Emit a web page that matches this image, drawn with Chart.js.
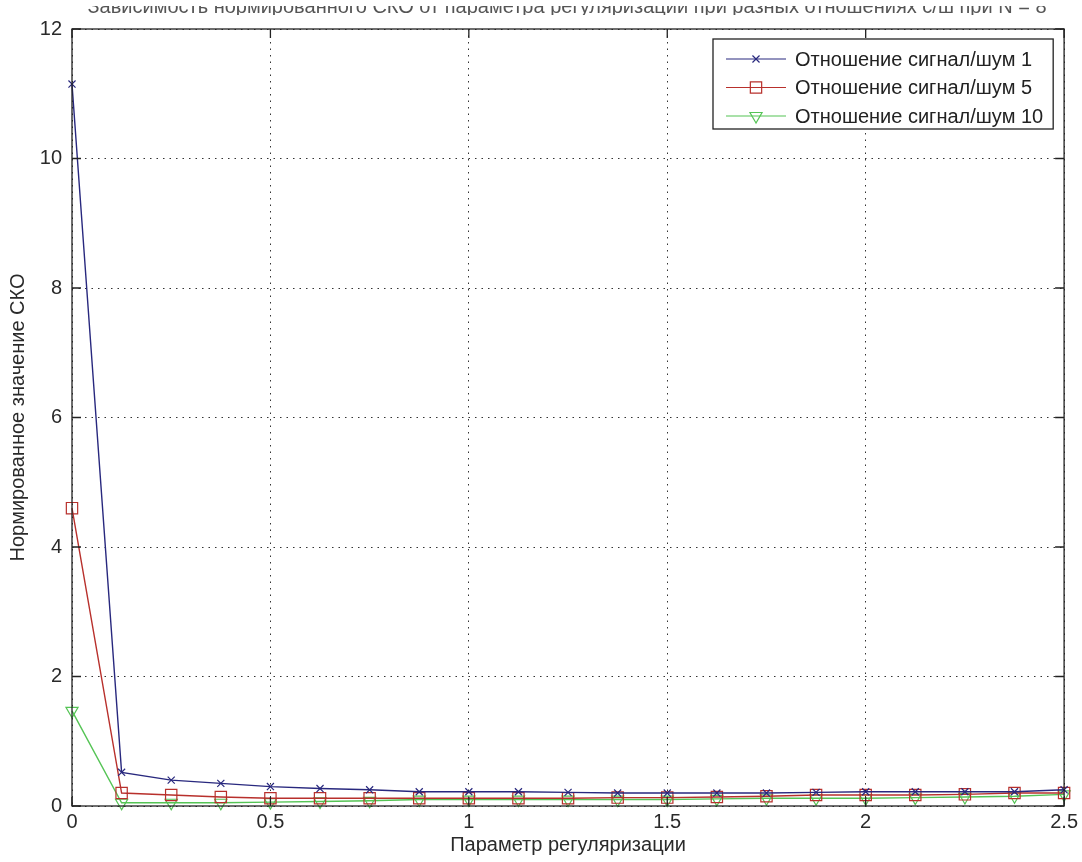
<!DOCTYPE html>
<html>
<head>
<meta charset="utf-8">
<script src="https://cdn.jsdelivr.net/npm/chart.js@4.4.1/dist/chart.umd.min.js"></script>
<style>
  body { margin: 0; background: #fff; }
  #wrap { width: 1082px; height: 862px; }
</style>
</head>
<body>
<div id="wrap"><canvas id="mainChart" width="1082" height="862"></canvas></div>
<script>
// x = regularization parameter, 0 .. 2.5 step 0.125
let xValues = [0, 0.125, 0.25, 0.375, 0.5, 0.625, 0.75, 0.875, 1, 1.125, 1.25,
               1.375, 1.5, 1.625, 1.75, 1.875, 2, 2.125, 2.25, 2.375, 2.5];

let snr1 = [11.15, 0.52, 0.40, 0.35, 0.30, 0.27, 0.25, 0.22, 0.22, 0.22, 0.21,
            0.20, 0.20, 0.20, 0.20, 0.21, 0.22, 0.22, 0.22, 0.22, 0.25];
let snr5 = [4.6, 0.20, 0.17, 0.14, 0.12, 0.12, 0.12, 0.12, 0.12, 0.12, 0.12,
            0.13, 0.13, 0.14, 0.15, 0.17, 0.17, 0.17, 0.18, 0.20, 0.20];
let snr10 = [1.47, 0.05, 0.05, 0.05, 0.06, 0.07, 0.08, 0.10, 0.10, 0.10, 0.10,
             0.10, 0.10, 0.11, 0.12, 0.12, 0.12, 0.13, 0.14, 0.15, 0.18];

let seriesNames = ['Отношение сигнал/шум 1', 'Отношение сигнал/шум 5', 'Отношение сигнал/шум 10'];
let titleText = 'Зависимость нормированного СКО от параметра регуляризации при разных отношениях с/ш при N = 8';

function toPoints(ys) {
  return ys.map((y, i) => ({ x: xValues[i], y: y }));
}

const FONT = "'Liberation Sans', Arial, sans-serif";

// matlab style box, inner ticks, top title and legend
const matlabBox = {
  id: 'matlabBox',
  afterDraw(chart) {
    const ctx = chart.ctx;
    const a = chart.chartArea;
    const xs = chart.scales.x, ys = chart.scales.y;
    ctx.save();
    ctx.strokeStyle = '#222';
    ctx.lineWidth = 1.3;
    ctx.strokeRect(a.left, a.top, a.right - a.left, a.bottom - a.top);
    ctx.beginPath();
    xs.ticks.forEach(t => {
      let px = xs.getPixelForValue(t.value);
      ctx.moveTo(px, a.bottom); ctx.lineTo(px, a.bottom - 9);
      ctx.moveTo(px, a.top); ctx.lineTo(px, a.top + 9);
    });
    ys.ticks.forEach(t => {
      let py = ys.getPixelForValue(t.value);
      ctx.moveTo(a.left, py); ctx.lineTo(a.left + 9, py);
      ctx.moveTo(a.right, py); ctx.lineTo(a.right - 9, py);
    });
    ctx.stroke();

    // title, only its lower part is visible in the original
    ctx.save();
    ctx.beginPath();
    ctx.rect(0, 6, chart.width, 9);
    ctx.clip();
    ctx.fillStyle = '#555';
    ctx.font = '20px ' + FONT;
    ctx.textAlign = 'center';
    ctx.textBaseline = 'alphabetic';
    ctx.fillText(titleText, 567, 13);
    ctx.restore();

    // legend
    ctx.font = '20px ' + FONT;
    ctx.textBaseline = 'middle';
    let textX = 795;
    let maxW = Math.max(...seriesNames.map(s => ctx.measureText(s).width));
    let bx = 713, by = 39, bw = textX - bx + maxW + 10, bh = 90;
    ctx.fillStyle = '#fff';
    ctx.fillRect(bx, by, bw, bh);
    ctx.strokeStyle = '#222';
    ctx.lineWidth = 1.3;
    ctx.strokeRect(bx, by, bw, bh);
    chart.data.datasets.forEach((ds, i) => {
      let ly = 59 + i * 28.5;
      ctx.strokeStyle = ds.borderColor;
      ctx.lineWidth = 1.2;
      ctx.beginPath();
      ctx.moveTo(726, ly); ctx.lineTo(786, ly);
      ctx.stroke();
      ctx.fillStyle = 'rgba(0,0,0,0)';
      Chart.helpers.drawPoint(ctx, {
        pointStyle: ds.pointStyle, radius: ds.pointRadius,
        rotation: ds.pointRotation || 0, borderWidth: 1.2
      }, 756, ly);
      ctx.fillStyle = '#222';
      ctx.textAlign = 'left';
      ctx.fillText(seriesNames[i], textX, ly + 1);
    });
    ctx.restore();
  }
};

let gridStyle = {
  color: '#333',
  lineWidth: 1,
  drawTicks: false
};
let borderStyle = { display: false, dash: [1.5, 5] };

let chart = new Chart(document.getElementById('mainChart').getContext('2d'), {
  type: 'line',
  data: {
    datasets: [
      {
        label: seriesNames[0],
        data: toPoints(snr1),
        borderColor: '#28287e',
        borderWidth: 1.4,
        pointStyle: 'crossRot',
        pointRadius: 5,
        pointBorderWidth: 1.2,
        pointBorderColor: '#28287e',
        pointBackgroundColor: 'rgba(0,0,0,0)',
        tension: 0
      },
      {
        label: seriesNames[1],
        data: toPoints(snr5),
        borderColor: '#b8302c',
        borderWidth: 1.4,
        pointStyle: 'rect',
        pointRadius: 8,
        pointBorderWidth: 1.2,
        pointBorderColor: '#b8302c',
        pointBackgroundColor: 'rgba(0,0,0,0)',
        tension: 0
      },
      {
        label: seriesNames[2],
        data: toPoints(snr10),
        borderColor: '#55c455',
        borderWidth: 1.4,
        pointStyle: 'triangle',
        pointRotation: 180,
        pointRadius: 7,
        pointBorderWidth: 1.2,
        pointBorderColor: '#55c455',
        pointBackgroundColor: 'rgba(0,0,0,0)',
        tension: 0
      }
    ]
  },
  options: {
    responsive: false,
    animation: false,
    clip: false,
    layout: { padding: { top: 29, right: 14, left: 0, bottom: 0 } },
    plugins: {
      legend: { display: false },
      title: { display: false },
      tooltip: { enabled: false }
    },
    scales: {
      x: {
        type: 'linear',
        min: 0,
        max: 2.5,
        grid: gridStyle,
        border: borderStyle,
        ticks: {
          stepSize: 0.5,
          color: '#2a2a2a',
          padding: 4,
          font: { family: FONT, size: 20 },
          callback: v => String(v)
        },
        title: {
          display: true,
          text: 'Параметр регуляризации',
          color: '#2a2a2a',
          padding: { top: 0, bottom: 5 },
          font: { family: FONT, size: 20 }
        },
        afterFit: s => { s.height = 56; }
      },
      y: {
        min: 0,
        max: 12,
        grid: gridStyle,
        border: borderStyle,
        ticks: {
          stepSize: 2,
          color: '#2a2a2a',
          padding: 10,
          font: { family: FONT, size: 20 }
        },
        title: {
          display: true,
          text: 'Нормированное значение СКО',
          color: '#2a2a2a',
          padding: { top: 6, bottom: 0 },
          font: { family: FONT, size: 20 }
        },
        afterFit: s => { s.width = 72; }
      }
    }
  },
  plugins: [matlabBox]
});
</script>
</body>
</html>
